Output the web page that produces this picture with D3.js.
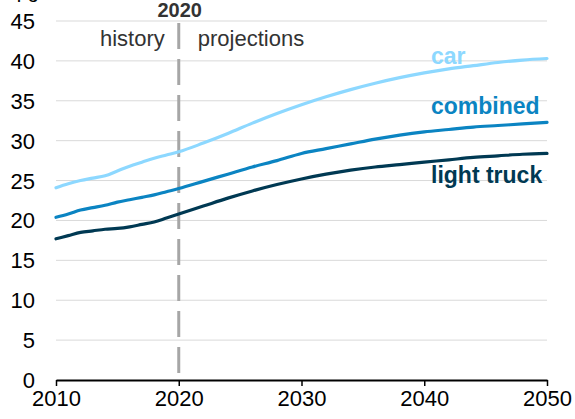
<!DOCTYPE html>
<html>
<head>
<meta charset="utf-8">
<script src="https://cdn.jsdelivr.net/npm/d3@7"></script>
<style>
  body { margin: 0; background: #fff; }
  svg { display: block; font-family: "Liberation Sans", Arial, sans-serif; }
</style>
</head>
<body>
<div id="chart"></div>
<script>
// years and mpg values
var years = [2010, 2011, 2012, 2013, 2014, 2015, 2016, 2017, 2018, 2019, 2020,
             2022, 2024, 2026, 2028, 2030, 2032, 2034, 2036, 2038, 2040,
             2042, 2044, 2046, 2048, 2050];
var carMpg = [24.1, 24.6, 25.0, 25.3, 25.6, 26.2, 26.8, 27.3, 27.8, 28.2, 28.6,
              29.7, 30.9, 32.2, 33.4, 34.5, 35.5, 36.4, 37.2, 37.9, 38.5,
              39.0, 39.4, 39.8, 40.1, 40.3];
var combinedMpg = [20.4, 20.8, 21.3, 21.6, 21.9, 22.3, 22.6, 22.9, 23.2, 23.6, 24.0,
                   24.9, 25.8, 26.7, 27.5, 28.4, 29.0, 29.6, 30.2, 30.7, 31.1,
                   31.4, 31.7, 31.9, 32.1, 32.3];
var truckMpg = [17.7, 18.1, 18.5, 18.7, 18.9, 19.0, 19.2, 19.5, 19.8, 20.3, 20.8,
                21.8, 22.8, 23.7, 24.5, 25.2, 25.8, 26.3, 26.7, 27.0, 27.3,
                27.6, 27.9, 28.1, 28.3, 28.4];
var xTicks = [2010, 2020, 2030, 2040, 2050];
var yTicks = [0, 5, 10, 15, 20, 25, 30, 35, 40, 45];
var seriesNames = ["car", "combined", "light truck"];

var width = 575, height = 419;
var svg = d3.select("#chart").append("svg")
    .attr("width", width)
    .attr("height", height);

var x = d3.scaleLinear().domain([2010, 2050]).range([56, 547]);
var y = d3.scaleLinear().domain([0, 45]).range([380, 21]);

//gridlines
svg.append("g")
   .selectAll("line")
   .data(yTicks.filter(function(d) { return d > 0; }))
   .enter().append("line")
   .attr("x1", x(2010))
   .attr("x2", x(2050))
   .attr("y1", function(d) { return y(d); })
   .attr("y2", function(d) { return y(d); })
   .attr("stroke", "#d9d9d9")
   .attr("stroke-width", 1);

//y tick labels
svg.append("g")
   .selectAll("text")
   .data(yTicks)
   .enter().append("text")
   .attr("x", 35)
   .attr("y", function(d) { return y(d) + 8; })
   .attr("text-anchor", "end")
   .style("font-size", "22px")
   .attr("fill", "#000")
   .text(function(d) { return d; });

//history / projections divider
svg.append("line")
   .attr("x1", x(2020))
   .attr("x2", x(2020))
   .attr("y1", 23)
   .attr("y2", 380)
   .attr("stroke", "#a6a6a6")
   .attr("stroke-width", 3)
   .attr("stroke-dasharray", "26,10");

svg.append("text")
   .attr("x", x(2020) + 1)
   .attr("y", 17)
   .attr("text-anchor", "middle")
   .style("font-size", "20px")
   .style("font-weight", "bold")
   .attr("fill", "#333")
   .text("2020");

svg.append("text")
   .attr("x", x(2020) - 14)
   .attr("y", 46)
   .attr("text-anchor", "end")
   .style("font-size", "22px")
   .attr("fill", "#333")
   .text("history");

svg.append("text")
   .attr("x", x(2020) + 19)
   .attr("y", 46)
   .style("font-size", "22px")
   .attr("fill", "#333")
   .text("projections");

//unit label, cropped at the top as in the source
svg.append("text")
   .attr("x", 0)
   .attr("y", -2)
   .style("font-size", "20px")
   .attr("fill", "#000")
   .text("mpg");

//x axis
var xAxis = svg.append("g")
   .attr("transform", "translate(0,380)")
   .call(d3.axisBottom(x).tickValues(xTicks).tickFormat(d3.format("d")).tickSize(6).tickSizeOuter(0));
xAxis.select(".domain").attr("stroke", "#000").attr("stroke-width", 2);
xAxis.selectAll(".tick line").attr("stroke", "#000").attr("stroke-width", 1.5);
xAxis.selectAll(".tick text")
     .attr("y", 10)
     .attr("dy", "0.71em")
     .style("font-size", "22px")
     .style("font-family", "Liberation Sans, Arial, sans-serif")
     .attr("fill", "#000");

//lines
var series = [
  {name: seriesNames[0], values: carMpg, color: "#8dd8ff", lx: 431, ly: 64},
  {name: seriesNames[1], values: combinedMpg, color: "#0b84c2", lx: 431, ly: 114},
  {name: seriesNames[2], values: truckMpg, color: "#003953", lx: 431, ly: 183}
];

var line = d3.line()
    .x(function(d, i) { return x(years[i]); })
    .y(function(d) { return y(d); })
    .curve(d3.curveMonotoneX);

svg.append("g")
   .selectAll("path")
   .data(series)
   .enter().append("path")
   .attr("d", function(d) { return line(d.values); })
   .attr("fill", "none")
   .attr("stroke", function(d) { return d.color; })
   .attr("stroke-width", 3.2)
   .attr("stroke-linecap", "round");

svg.append("g")
   .selectAll("text")
   .data(series)
   .enter().append("text")
   .attr("x", function(d) { return d.lx; })
   .attr("y", function(d) { return d.ly; })
   .style("font-size", "23px")
   .style("font-weight", "bold")
   .attr("fill", function(d) { return d.color; })
   .text(function(d) { return d.name; });
</script>
</body>
</html>
